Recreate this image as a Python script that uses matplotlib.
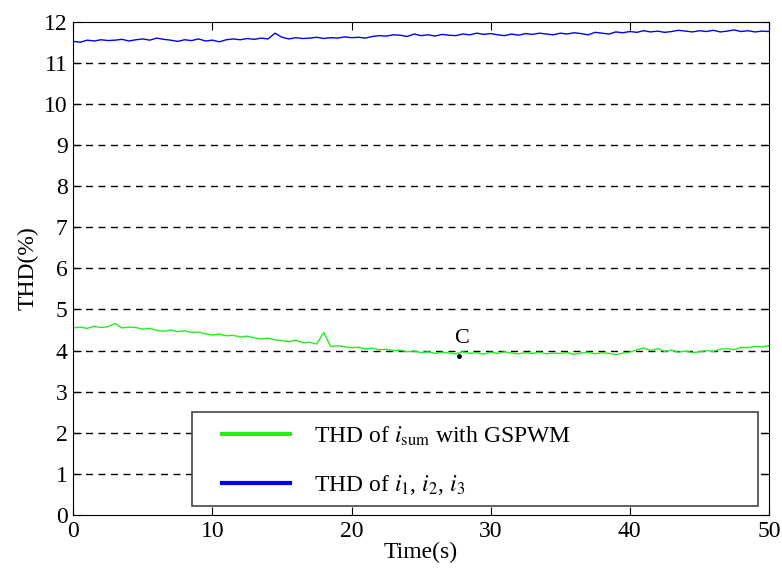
import numpy as np
import matplotlib
matplotlib.use('Agg')
import matplotlib.pyplot as plt
from matplotlib.patches import Rectangle

plt.rcParams['font.family'] = ['Liberation Serif', 'DejaVu Serif']
plt.rcParams['mathtext.fontset'] = 'stix'
plt.rcParams['font.size'] = 17

# 时间轴，每 0.5 s 一个点
t = np.arange(0, 50.5, 0.5)

# THD of i_sum with GSPWM
thd_sum = [
    4.55, 4.57, 4.54, 4.59, 4.56, 4.58, 4.66, 4.55, 4.57, 4.56,
    4.52, 4.54, 4.49, 4.47, 4.50, 4.46, 4.48, 4.44, 4.45, 4.41,
    4.38, 4.40, 4.36, 4.37, 4.33, 4.35, 4.31, 4.28, 4.30, 4.26,
    4.24, 4.22, 4.25, 4.19, 4.20, 4.16, 4.44, 4.10, 4.12, 4.09,
    4.07, 4.08, 4.04, 4.06, 4.02, 4.03, 4.00, 4.01, 3.97, 3.99,
    3.95, 3.97, 3.93, 3.96, 3.94, 3.92, 3.97, 3.93, 3.95, 3.91,
    3.96, 3.93, 3.97, 3.94, 3.92, 3.95, 3.93, 3.96, 3.92, 3.94,
    3.93, 3.95, 3.91, 3.94, 3.96, 3.92, 3.95, 3.93, 3.90, 3.94,
    3.96, 4.02, 4.06, 4.00, 4.05, 3.98, 4.01, 3.96, 3.99, 3.95,
    3.97, 4.00, 3.98, 4.03, 4.05, 4.02, 4.08, 4.07, 4.10, 4.09,
    4.12,
]

# THD of i1, i2, i3
thd_123 = [
    11.52, 11.50, 11.55, 11.53, 11.56, 11.54, 11.55, 11.57, 11.53, 11.56,
    11.58, 11.55, 11.60, 11.57, 11.55, 11.52, 11.56, 11.54, 11.58, 11.53,
    11.55, 11.51, 11.56, 11.58, 11.56, 11.59, 11.57, 11.60, 11.58, 11.72,
    11.62, 11.58, 11.61, 11.59, 11.60, 11.62, 11.59, 11.61, 11.60, 11.63,
    11.61, 11.62, 11.60, 11.64, 11.66, 11.65, 11.68, 11.67, 11.64, 11.70,
    11.66, 11.68, 11.65, 11.69, 11.67, 11.66, 11.70, 11.68, 11.72, 11.69,
    11.71, 11.68, 11.66, 11.70, 11.67, 11.71, 11.69, 11.72, 11.70, 11.68,
    11.72, 11.70, 11.73, 11.71, 11.68, 11.74, 11.72, 11.70, 11.75, 11.73,
    11.76, 11.74, 11.78, 11.75, 11.77, 11.74, 11.76, 11.79, 11.77, 11.75,
    11.78, 11.76, 11.79, 11.75, 11.77, 11.80, 11.76, 11.78, 11.75, 11.77,
    11.76,
]

# 标注点 C
c_t, c_thd = 27.7, 3.86

fig = plt.figure(figsize=(7.82, 5.73), dpi=100)
ax = fig.add_axes([0.0937, 0.1012, 0.8896, 0.861])

for yv in range(1, 12):
    ax.axhline(yv, color='black', linestyle=(0, (5, 4)), linewidth=1, zorder=1)

ax.plot(t, thd_sum, color='#22ee22', linewidth=1, label=r'THD of $i_{\rm sum}$ with GSPWM', zorder=2)
ax.plot(t, thd_123, color='#0000ff', linewidth=1, label=r'THD of $i_1$, $i_2$, $i_3$', zorder=2)
ax.plot([c_t], [c_thd], 'o', color='black', markersize=2.5, zorder=3)
ax.text(c_t + 0.2, c_thd + 0.2, 'C', fontsize=16, ha='center', va='bottom')

ax.set_xlim(0, 50)
ax.set_ylim(0, 12)
ax.set_xticks(range(0, 51, 10))
ax.set_yticks(range(0, 13))
ax.tick_params(direction='in', top=True, right=True, length=6, pad=4)
ax.set_xlabel('Time(s)', labelpad=0)
ax.set_ylabel('THD(%)', labelpad=4)

# 图例外框单独画，便于控制内边距
box = Rectangle((0.171, 0.018), 0.813, 0.191, transform=ax.transAxes,
                facecolor='white', edgecolor='#444444', linewidth=1.2, zorder=4)
ax.add_patch(box)
leg = ax.legend(loc='upper left', bbox_to_anchor=(0.2134, 0.184),
                frameon=False, borderpad=0, borderaxespad=0,
                handlelength=2.9, labelspacing=1.08, handletextpad=1.0)
leg.set_zorder(5)
for line in leg.get_lines():
    line.set_linewidth(3)

fig.savefig('out.png', dpi=100)
